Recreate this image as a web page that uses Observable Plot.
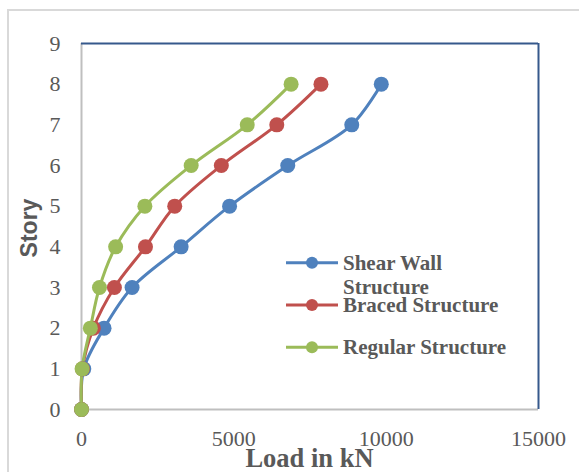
<!DOCTYPE html>
<html><head><meta charset="utf-8">
<script src="https://cdn.jsdelivr.net/npm/d3@7"></script>
<script src="https://cdn.jsdelivr.net/npm/@observablehq/plot@0.6"></script>
<style>
body{margin:0;background:#fff;}
#wrap{position:relative;width:579px;height:472px;overflow:hidden;background:#fff;}
#frame{position:absolute;left:7px;top:9px;width:640px;height:540px;border:2px solid #d9d9d9;box-sizing:border-box;}
#chart{position:absolute;left:0;top:0;}
#legend{position:absolute;left:0;top:0;pointer-events:none;}
</style></head><body>
<div id="wrap"><div id="frame"></div><div id="chart"></div><svg id="legend" width="579" height="472"></svg></div>
<script>
const stories = [0, 1, 2, 3, 4, 5, 6, 7, 8];
const shearWall = [0, 75, 740, 1660, 3270, 4860, 6770, 8870, 9840];
const braced = [0, 30, 390, 1080, 2100, 3060, 4590, 6410, 7860];
const regular = [0, 20, 290, 590, 1120, 2080, 3600, 5440, 6880];
const seriesNames = ["Shear Wall Structure", "Braced Structure", "Regular Structure"];
const legendLabels = [["Shear Wall", "Structure"], ["Braced Structure"], ["Regular Structure"]];
const seriesColors = ["#4f81bd", "#c0504d", "#9bbb59"];
const xTicks = [0, 5000, 10000, 15000];
const yTicks = [0, 1, 2, 3, 4, 5, 6, 7, 8, 9];
const xLabel = "Load in kN";
const yLabel = "Story";

const seriesValues = [shearWall, braced, regular];
const data = seriesNames.flatMap((name, i) =>
  stories.map((s, j) => ({series: name, story: s, load: seriesValues[i][j]})));

const grey = "#595959";
const chart = Plot.plot({
  width: 579,
  height: 472,
  marginLeft: 81,
  marginRight: 41,
  marginTop: 43,
  marginBottom: 63,
  style: {fontFamily: "Liberation Serif", fontSize: "22px", color: grey, background: "transparent"},
  x: {domain: [0, 15000], ticks: xTicks, tickFormat: d => String(d), tickSize: 0, tickPadding: 21, label: null},
  y: {domain: [0, 9], ticks: yTicks, tickSize: 0, tickPadding: 21, label: null},
  color: {domain: seriesNames, range: seriesColors},
  marks: [
    Plot.ruleX([0], {stroke: "#bfbfbf", strokeWidth: 2}),
    Plot.ruleY([0], {stroke: "#bfbfbf", strokeWidth: 2}),
    Plot.ruleY([9], {stroke: "#36598c", strokeWidth: 2}),
    Plot.ruleX([15000], {stroke: "#36598c", strokeWidth: 2}),
    Plot.line(data, {x: "load", y: "story", z: "series", stroke: "series", curve: "catmull-rom", strokeWidth: 3}),
    Plot.dot(data, {x: "load", y: "story", fill: "series", r: 7.5})
  ]
});
document.getElementById("chart").appendChild(chart);

const xs = chart.scale("x"), ys = chart.scale("y");
const leg = d3.select("#legend");
const yMid = (ys.apply(0) + ys.apply(9)) / 2;
const xMid = (xs.apply(0) + xs.apply(15000)) / 2;
// axis titles
leg.append("text")
  .attr("transform", `translate(${xs.apply(0) - 52},${yMid + 2}) rotate(-90)`)
  .attr("text-anchor", "middle").attr("dy", "0.35em")
  .attr("font-family", "Liberation Sans").attr("font-weight", "bold").attr("font-size", 23)
  .attr("fill", grey).text(yLabel);
leg.append("text")
  .attr("x", xMid).attr("y", ys.apply(0) + 58).attr("text-anchor", "middle")
  .attr("font-family", "Liberation Serif").attr("font-weight", "bold").attr("font-size", 26.5)
  .attr("fill", grey).text(xLabel);

// legend (inside plot area, Excel style)
const rowY0 = 262.7, rowStep = 42.3, lineX0 = 286, lineX1 = 338, textX = 343;
seriesNames.forEach((name, i) => {
  const y = rowY0 + i * rowStep;
  const g = leg.append("g");
  g.append("line").attr("x1", lineX0).attr("x2", lineX1).attr("y1", y).attr("y2", y)
    .attr("stroke", seriesColors[i]).attr("stroke-width", 3);
  g.append("circle").attr("cx", (lineX0 + lineX1) / 2).attr("cy", y).attr("r", 6).attr("fill", seriesColors[i]);
  legendLabels[i].forEach((t, k) => {
    g.append("text").attr("x", textX).attr("y", y + 7 + k * 24)
      .attr("font-family", "Liberation Serif").attr("font-weight", "bold").attr("font-size", 21)
      .attr("fill", grey).text(t);
  });
});
</script>
</body></html>
